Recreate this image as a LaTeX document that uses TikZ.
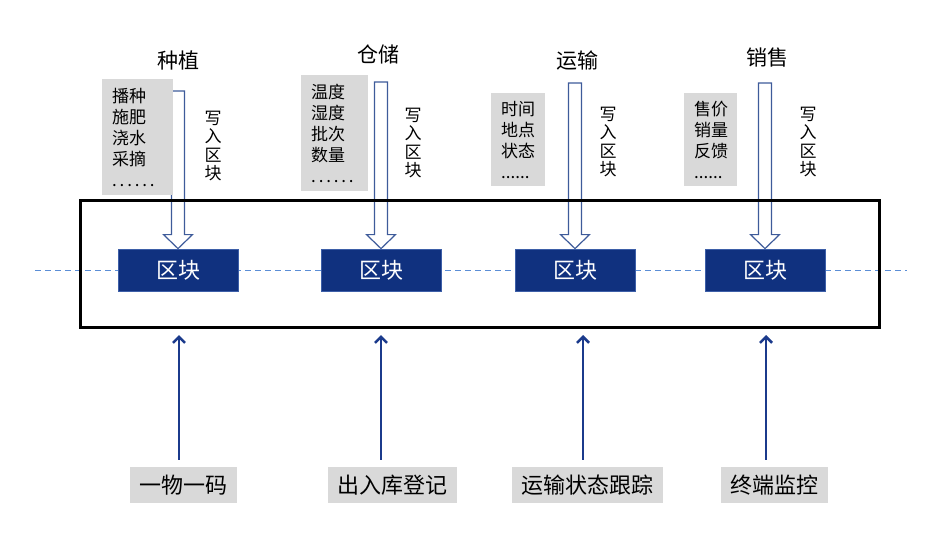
\documentclass[tikz,border=0pt]{standalone}
\usepackage{fontspec}
\setmainfont{Noto Sans CJK SC}
\usetikzlibrary{calc,arrows.meta}

\definecolor{chainblue}{HTML}{10317F}
\definecolor{chainedge}{HTML}{3D5FA8}
\definecolor{infogray}{HTML}{D9D9D9}
\definecolor{dashblue}{HTML}{5B8ED6}
\definecolor{arrowblue}{HTML}{1B3A8C}
\definecolor{hollowblue}{HTML}{3E5B9A}

\tikzset{
	block/.style={fill=chainblue, draw=chainedge, line width=0.8pt, minimum width=120pt, minimum height=42pt, text=white, font=\fontsize{22}{22}\selectfont},
	info/.style={fill=infogray, anchor=north west, inner xsep=10pt, inner ysep=0pt, align=left, font=\fontsize{17}{21}\selectfont},
	title/.style={font=\fontsize{21}{21}\selectfont},
	vtext/.style={align=center, font=\fontsize{17}{18.5}\selectfont},
	source/.style={fill=infogray, minimum height=36pt, inner xsep=9.5pt, font=\fontsize{22}{22}\selectfont},
	frame/.style={draw=black, line width=3pt, minimum width=799pt, minimum height=127pt},
	dashline/.style={draw=dashblue, line width=0.8pt, dash pattern=on 6pt off 4pt},
	hollow/.style={draw=hollowblue, fill=white, line width=1.2pt, line join=miter},
	uparrow/.style={draw=arrowblue, line width=2.6pt, -{Straight Barb[length=6pt,width=12pt]}, shorten <=7pt}
}

\newcommand{\writearrow}[2]{%
	\draw[hollow] ($(#1)+(-6.5,0)$) -- ($(#2.north)+(-6.5,-14)$) -- ($(#2.north)+(-14.5,-14)$) -- (#2.north) -- ($(#2.north)+(14.5,-14)$) -- ($(#2.north)+(6.5,-14)$) -- ($(#1)+(6.5,0)$) -- cycle;}

\begin{document}
\begin{tikzpicture}[x=1pt, y=-1pt]
	\useasboundingbox (0,0) rectangle (938,549);
	\draw[dashline] (35,270) -- (907,270);
	% the four blocks of the chain
	\node[block] (blk1) at (178,270) {区块};
	\node[block] (blk2) at (381,270) {区块};
	\node[block] (blk3) at (575,270) {区块};
	\node[block] (blk4) at (765,270) {区块};
	% write-in arrows
	\coordinate (w1) at (178,91);
	\coordinate (w2) at (381,82);
	\coordinate (w3) at (575,83);
	\coordinate (w4) at (765,83);
	\writearrow{w1}{blk1}
	\writearrow{w2}{blk2}
	\writearrow{w3}{blk3}
	\writearrow{w4}{blk4}
	% stages
	\node[title] (plant) at (178,60) {种植};
	\node[title] (store) at (378,54) {仓储};
	\node[title] (ship) at (577,61) {运输};
	\node[title] (sale) at (767,58) {销售};
	\node[info, minimum width=71pt, minimum height=116pt, text width=51pt] (plantinfo) at (102,79) {播种\\施肥\\浇水\\采摘\\.\,.\,.\,.\,.\,.};
	\node[info, minimum width=67pt, minimum height=116pt, text width=47pt] (storeinfo) at (301,75) {温度\\湿度\\批次\\数量\\.\,.\,.\,.\,.\,.};
	\node[info, minimum width=54pt, minimum height=93pt, text width=34pt] (shipinfo) at (491,93) {时间\\地点\\状态\\......};
	\node[info, minimum width=53pt, minimum height=93pt, text width=33pt] (saleinfo) at (684,93) {售价\\销量\\反馈\\......};
	\node[vtext] (wr1) at (213,146) {写\\入\\区\\块};
	\node[vtext] (wr2) at (413,143) {写\\入\\区\\块};
	\node[vtext] (wr3) at (608,142) {写\\入\\区\\块};
	\node[vtext] (wr4) at (808,142) {写\\入\\区\\块};
	% frame of the chain
	\node[frame] (chain) at (479.5,263.5) {};
	% data sources
	\node[source] (code) at (183.5,485) {一物一码};
	\node[source] (depot) at (392,485) {出入库登记};
	\node[source] (track) at (587,485) {运输状态跟踪};
	\node[source] (term) at (774.5,485) {终端监控};
	\coordinate (t1) at (179,335);
	\coordinate (t2) at (381,335);
	\coordinate (t3) at (583,335);
	\coordinate (t4) at (766,335);
	\draw[uparrow] (t1 |- code.north) -- (t1);
	\draw[uparrow] (t2 |- depot.north) -- (t2);
	\draw[uparrow] (t3 |- track.north) -- (t3);
	\draw[uparrow] (t4 |- term.north) -- (t4);
\end{tikzpicture}
\end{document}
